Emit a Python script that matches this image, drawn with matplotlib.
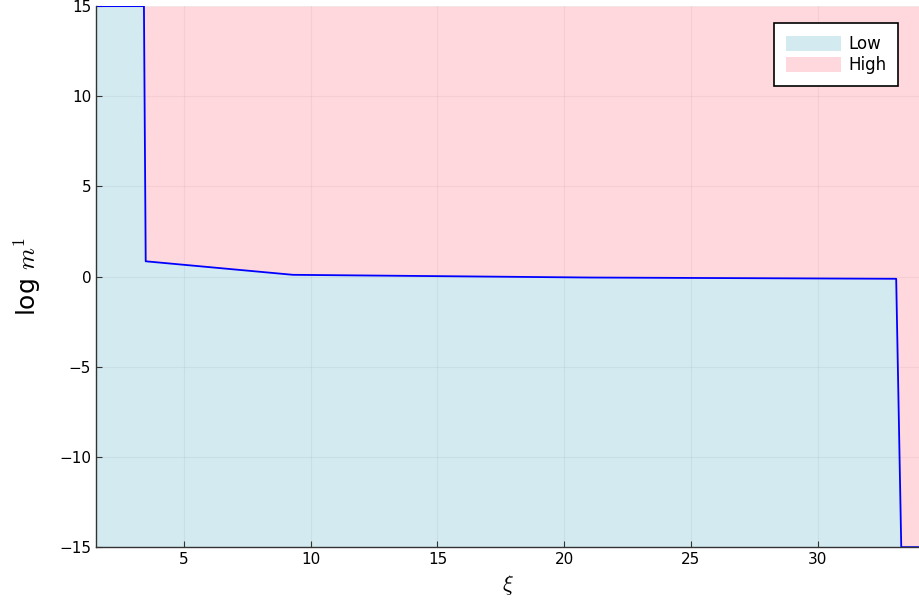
import matplotlib
matplotlib.use("Agg")
import matplotlib.pyplot as plt
from matplotlib.patches import Patch

plt.rcParams["mathtext.fontset"] = "cm"

xi = [1.53, 3.42, 3.49, 9.3, 21.0, 33.1, 33.3, 34.0]
boundary = [15.0, 15.0, 0.85, 0.1, -0.05, -0.12, -15.0, -15.0]
xticks = [5, 10, 15, 20, 25, 30]
yticks = [-15, -10, -5, 0, 5, 10, 15]
labels = ["Low", "High"]

low_c = "#d3eaf0"
high_c = "#ffd8dd"

fig = plt.figure(figsize=(9.19, 6.12), dpi=100)
ax = fig.add_axes([0.1045, 0.106, 0.8955, 0.884])

ax.fill_between(xi, -15, boundary, color=low_c, linewidth=0, zorder=1)
ax.fill_between(xi, boundary, 15, color=high_c, linewidth=0, zorder=1)
ax.plot(xi, boundary, color="blue", linewidth=1.3, zorder=3)

ax.set_xlim(1.53, 34.0)
ax.set_ylim(-15, 15)
ax.set_xticks(xticks)
ax.set_yticks(yticks)
ax.set_yticklabels(["\u2212" + str(-t) if t < 0 else str(t) for t in yticks])
ax.grid(True, color="black", alpha=0.045, linewidth=0.8, zorder=2)
ax.set_axisbelow(False)
for s in ["top", "right"]:
    ax.spines[s].set_visible(False)
for s in ["left", "bottom"]:
    ax.spines[s].set_color("#333333")
    ax.spines[s].set_linewidth(1.0)
    ax.spines[s].set_zorder(4)
ax.tick_params(direction="in", length=4, width=0.8, colors="#333333",
               labelcolor="black", labelsize=11)

ax.set_xlabel(r"$\xi$", fontsize=16, labelpad=4)
ax.set_ylabel(r"log $m^1$", fontsize=18, labelpad=12)

handles = [Patch(facecolor=low_c, edgecolor="none"),
           Patch(facecolor=high_c, edgecolor="none")]
leg = ax.legend(handles, labels, loc="upper right", bbox_to_anchor=(0.9745, 0.968),
                fontsize=12, frameon=True, fancybox=False, handlelength=3.3,
                handleheight=1.0, handletextpad=0.45, borderpad=0.7,
                labelspacing=0.2, borderaxespad=0)
leg.get_frame().set_edgecolor("black")
leg.get_frame().set_linewidth(1.2)
leg.get_frame().set_alpha(1.0)

fig.savefig("out.png", dpi=100)
